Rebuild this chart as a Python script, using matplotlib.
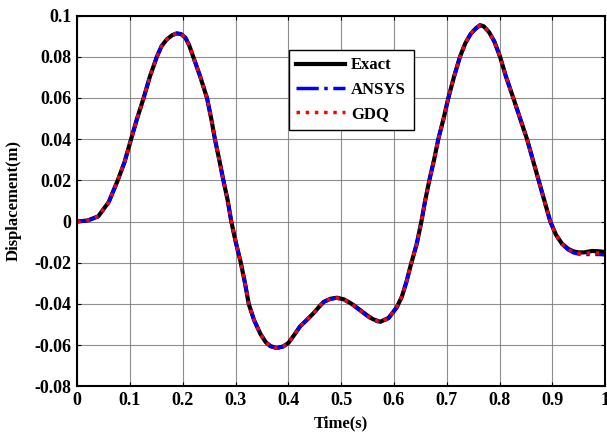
#!/usr/bin/python3
"""Displacement response: Exact vs ANSYS vs GDQ"""

import numpy as np
import matplotlib
matplotlib.use('Agg')

import matplotlib.pyplot as plt

# time samples (s)
time_s = [0, 0.02, 0.04, 0.06, 0.077, 0.09, 0.10, 0.113, 0.126, 0.138,
          0.151, 0.16, 0.17, 0.18, 0.189, 0.197, 0.205, 0.212, 0.22, 0.233,
          0.246, 0.254, 0.261, 0.27, 0.277, 0.285, 0.292, 0.30, 0.31, 0.318,
          0.325, 0.335, 0.347, 0.357, 0.366, 0.378, 0.39, 0.40, 0.41, 0.422,
          0.435, 0.447, 0.457, 0.467, 0.48, 0.492, 0.505, 0.515, 0.523, 0.536,
          0.549, 0.56, 0.574, 0.59, 0.605, 0.615, 0.624, 0.632, 0.643, 0.652,
          0.659, 0.667, 0.676, 0.684, 0.694, 0.703, 0.714, 0.725, 0.735, 0.745,
          0.755, 0.763, 0.77, 0.78, 0.79, 0.801, 0.812, 0.826, 0.839, 0.852,
          0.863, 0.874, 0.885, 0.896, 0.907, 0.918, 0.93, 0.94, 0.95, 0.96,
          0.975, 0.99, 1.0]

# displacement (m)
exact = [0, 0.0005, 0.0025, 0.0095, 0.02, 0.029, 0.038, 0.0495, 0.06, 0.0705,
         0.08, 0.0852, 0.0885, 0.0905, 0.0914, 0.091, 0.0893, 0.0858, 0.08, 0.0705,
         0.06, 0.05, 0.04, 0.029, 0.02, 0.0105, 0.0, -0.0095, -0.02, -0.03,
         -0.04, -0.0478, -0.0545, -0.0585, -0.0605, -0.0614, -0.0607, -0.059, -0.0555, -0.051,
         -0.0478, -0.0447, -0.0418, -0.039, -0.0375, -0.037, -0.0378, -0.0392, -0.0405, -0.043,
         -0.0455, -0.0474, -0.0487, -0.0468, -0.0418, -0.0365, -0.029, -0.021, -0.011, 0.0,
         0.01, 0.02, 0.03, 0.04, 0.05, 0.06, 0.0705, 0.08, 0.0865, 0.091,
         0.0938, 0.0954, 0.0948, 0.092, 0.0875, 0.08, 0.0705, 0.06, 0.05, 0.04,
         0.03, 0.02, 0.01, 0.0, -0.0065, -0.0107, -0.0133, -0.0145, -0.015, -0.015,
         -0.0143, -0.0145, -0.0148]

ansys = [0, 0.0005, 0.0025, 0.0095, 0.02, 0.029, 0.038, 0.0495, 0.06, 0.0705,
         0.08, 0.0852, 0.0885, 0.0905, 0.0913, 0.091, 0.0893, 0.0858, 0.08, 0.0705,
         0.06, 0.05, 0.04, 0.029, 0.02, 0.0105, 0.0, -0.0095, -0.02, -0.03,
         -0.04, -0.0478, -0.0545, -0.0586, -0.0606, -0.0615, -0.0608, -0.059, -0.0555, -0.051,
         -0.0478, -0.0447, -0.0418, -0.0391, -0.0376, -0.0372, -0.038, -0.0394, -0.0408, -0.0433,
         -0.0459, -0.0479, -0.049, -0.047, -0.0419, -0.0365, -0.029, -0.021, -0.011, 0.0,
         0.01, 0.02, 0.03, 0.04, 0.05, 0.06, 0.0705, 0.08, 0.0865, 0.091,
         0.0937, 0.0952, 0.0947, 0.092, 0.0875, 0.08, 0.0705, 0.06, 0.05, 0.04,
         0.03, 0.02, 0.01, 0.0, -0.0066, -0.011, -0.0138, -0.0152, -0.0158, -0.016,
         -0.016, -0.016, -0.0162]

gdq = [0, 0.0005, 0.0025, 0.0095, 0.02, 0.029, 0.038, 0.0495, 0.06, 0.0705,
       0.08, 0.0852, 0.0885, 0.0905, 0.0914, 0.091, 0.0893, 0.0858, 0.08, 0.0705,
       0.06, 0.05, 0.04, 0.029, 0.02, 0.0105, 0.0, -0.0095, -0.02, -0.03,
       -0.04, -0.0478, -0.0545, -0.0585, -0.0606, -0.0615, -0.0607, -0.059, -0.0555, -0.051,
       -0.0478, -0.0447, -0.0418, -0.039, -0.0375, -0.0371, -0.0379, -0.0393, -0.0406, -0.0431,
       -0.0457, -0.0476, -0.0488, -0.0469, -0.0418, -0.0365, -0.029, -0.021, -0.011, 0.0,
       0.01, 0.02, 0.03, 0.04, 0.05, 0.06, 0.0705, 0.08, 0.0865, 0.091,
       0.0938, 0.0953, 0.0948, 0.092, 0.0875, 0.08, 0.0705, 0.06, 0.05, 0.04,
       0.03, 0.02, 0.01, 0.0, -0.0065, -0.0108, -0.0135, -0.0148, -0.0154, -0.0155,
       -0.0152, -0.0153, -0.0155]

xticks = np.arange(0, 1.01, 0.1)
xlabels = ['0', '0.1', '0.2', '0.3', '0.4', '0.5', '0.6', '0.7', '0.8', '0.9', '1']
yticks = np.arange(-0.08, 0.101, 0.02)
ylabels = ['-0.08', '-0.06', '-0.04', '-0.02', '0', '0.02', '0.04', '0.06', '0.08', '0.1']


def main():
    plt.rcParams['font.family'] = ['Liberation Serif', 'DejaVu Serif']
    plt.rcParams['font.weight'] = 'bold'

    fig = plt.figure(figsize=(6.07, 4.34), dpi=100)
    ax = fig.add_axes([0.127, 0.11, 0.87, 0.854])

    ax.plot(time_s, exact, color='black', lw=3, ls='-', label='Exact')
    ax.plot(time_s, ansys, color='blue', lw=2.5, ls='-.', label='ANSYS')
    ax.plot(time_s, gdq, color='red', lw=2.5, ls=':', label='GDQ')

    ax.set_xlim(0, 1)
    ax.set_ylim(-0.08, 0.1)
    ax.set_xticks(xticks)
    ax.set_xticklabels(xlabels)
    ax.set_yticks(yticks)
    ax.set_yticklabels(ylabels)
    ax.tick_params(direction='in', top=True, right=True, length=3, labelsize=13, pad=4)
    for lab in ax.get_xticklabels() + ax.get_yticklabels():
        lab.set_fontweight('bold')

    ax.grid(True, color='0.45', lw=0.8, alpha=0.8)
    for sp in ax.spines.values():
        sp.set_linewidth(1.5)

    ax.set_xlabel('Time(s)', fontsize=12, fontweight='bold', labelpad=5)
    ax.set_ylabel('Displacement(m)', fontsize=12, fontweight='bold', labelpad=9)

    # legend box sits just left of centre, near the top
    leg = ax.legend(loc='upper left', bbox_to_anchor=(0.385, 0.93), fancybox=False,
                    framealpha=1, edgecolor='black', handlelength=2.9,
                    prop={'weight': 'bold', 'size': 12}, borderpad=0.45,
                    labelspacing=0.5, handletextpad=0.4)
    leg.get_frame().set_linewidth(1.0)

    plt.savefig('out.png', dpi=100)


if __name__ == "__main__":
    main()
